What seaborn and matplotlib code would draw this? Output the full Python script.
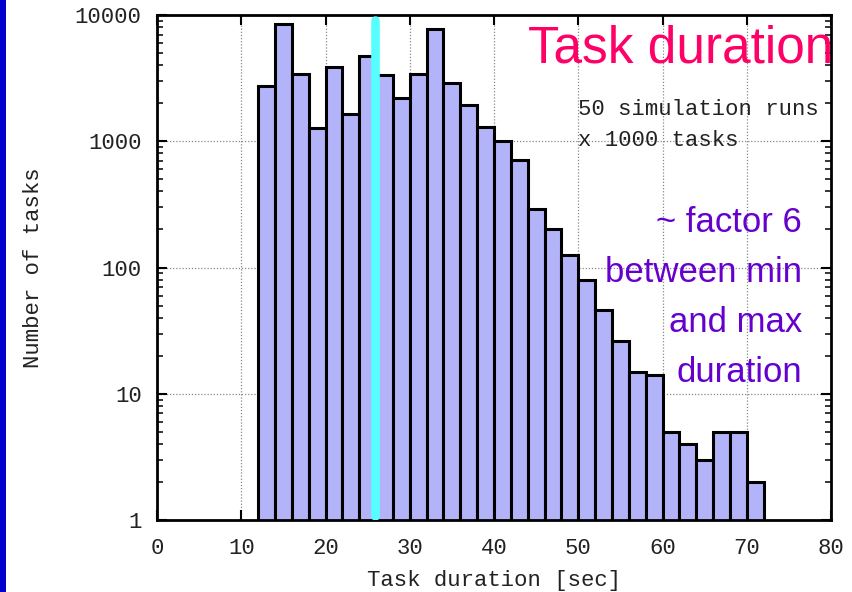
import numpy as np
import pandas as pd
import matplotlib
matplotlib.use("Agg")
import matplotlib.pyplot as plt
import seaborn as sns
from matplotlib.patches import Rectangle
from matplotlib.ticker import LogLocator, NullFormatter, FixedLocator

# ---- data ----
bin_edges = list(range(12, 74, 2))  # 12..72 sec, 2 s bins
task_counts = [2717, 8490, 3420, 1283, 3890, 1637, 4730, 3320, 2183, 3380,
               7700, 2887, 1942, 1300, 1000, 707, 292, 200, 125, 80,
               46, 26, 15, 14, 5, 4, 3, 5, 5, 2]
mean_duration = 25.9
x_ticks = [0, 10, 20, 30, 40, 50, 60, 70, 80]
y_ticks = [1, 10, 100, 1000, 10000]
y_tick_labels = ["1", "10", "100", "1000", "10000"]

centers = [(a + b) / 2 for a, b in zip(bin_edges[:-1], bin_edges[1:])]
df = pd.DataFrame({"duration": centers, "count": task_counts})

sns.set_theme(style="white")
plt.rcParams["font.family"] = ["Liberation Mono", "DejaVu Sans Mono"]

fig = plt.figure(figsize=(8.52, 5.92), dpi=100)
fig.patch.set_facecolor("white")
ax = fig.add_axes([157 / 852, 1 - 520 / 592, (831 - 157) / 852, (520 - 15) / 592])

sns.histplot(data=df, x="duration", weights="count", bins=bin_edges,
             ax=ax, color="#b3b3fa", alpha=1.0,
             edgecolor="black", linewidth=2.2, zorder=2)
ax.set_yscale("log")
ax.set_xlim(0, 80)
ax.set_ylim(1, 10000)

# grid (behind bars)
for gx in x_ticks[1:-1]:
    ax.axvline(gx, color="#888888", linestyle=(0, (1, 1.5)), linewidth=0.9, zorder=0.5)
for gy in y_ticks[1:-1]:
    ax.axhline(gy, color="#888888", linestyle=(0, (1, 1.5)), linewidth=0.9, zorder=0.5)

ax.axvline(mean_duration, ymin=0.008, ymax=0.99, color="#55ffff", linewidth=6.2, zorder=3)

# ticks
ax.xaxis.set_major_locator(FixedLocator(x_ticks))
ax.set_xticklabels([str(t) for t in x_ticks])
ax.yaxis.set_major_locator(FixedLocator(y_ticks))
ax.set_yticklabels(y_tick_labels)
ax.yaxis.set_minor_locator(LogLocator(base=10, subs=np.arange(2, 10)))
ax.yaxis.set_minor_formatter(NullFormatter())
ax.tick_params(axis="both", which="major", direction="in", length=7, width=1.5,
               top=True, right=True, bottom=True, left=True,
               labelsize=16, colors="black")
ax.tick_params(axis="x", which="major", pad=13)
ax.tick_params(axis="y", which="major", pad=11)
ax.tick_params(axis="y", which="minor", direction="in", length=4, width=1.3,
               left=True, right=True)
ax.tick_params(axis="x", which="minor", bottom=False, top=False)
for lab in ax.get_xticklabels() + ax.get_yticklabels():
    lab.set_color("#222222")

for sp in ax.spines.values():
    sp.set_color("black")
    sp.set_linewidth(2.0)
    sp.set_visible(True)

ax.set_xlabel("Task duration [sec]", fontsize=16, color="#222222", labelpad=8)
ax.set_ylabel("Number of tasks", fontsize=16, color="#222222", labelpad=22)

# annotations
fig.text(833 / 852, 1 - 49 / 592, "Task duration", family="Liberation Sans",
         fontsize=37, color="#ff0066", ha="right", va="center")
fig.text(578 / 852, 1 - 110 / 592, "50 simulation runs", fontsize=16,
         color="#222222", ha="left", va="center")
fig.text(578 / 852, 1 - 140 / 592, "x 1000 tasks", fontsize=16,
         color="#222222", ha="left", va="center")
purple_lines = ["~ factor 6", "between min", "and max", "duration"]
for i, line in enumerate(purple_lines):
    fig.text(802 / 852, 1 - (222 + 50 * i) / 592, line, family="Liberation Sans",
             fontsize=25, color="#6600cc", ha="right", va="center")

# left blue strip
fig.patches.append(Rectangle((0, 0), 6 / 852, 1, transform=fig.transFigure,
                             facecolor="#0000cc", edgecolor="none", zorder=10))

fig.savefig("out.png", dpi=100)
